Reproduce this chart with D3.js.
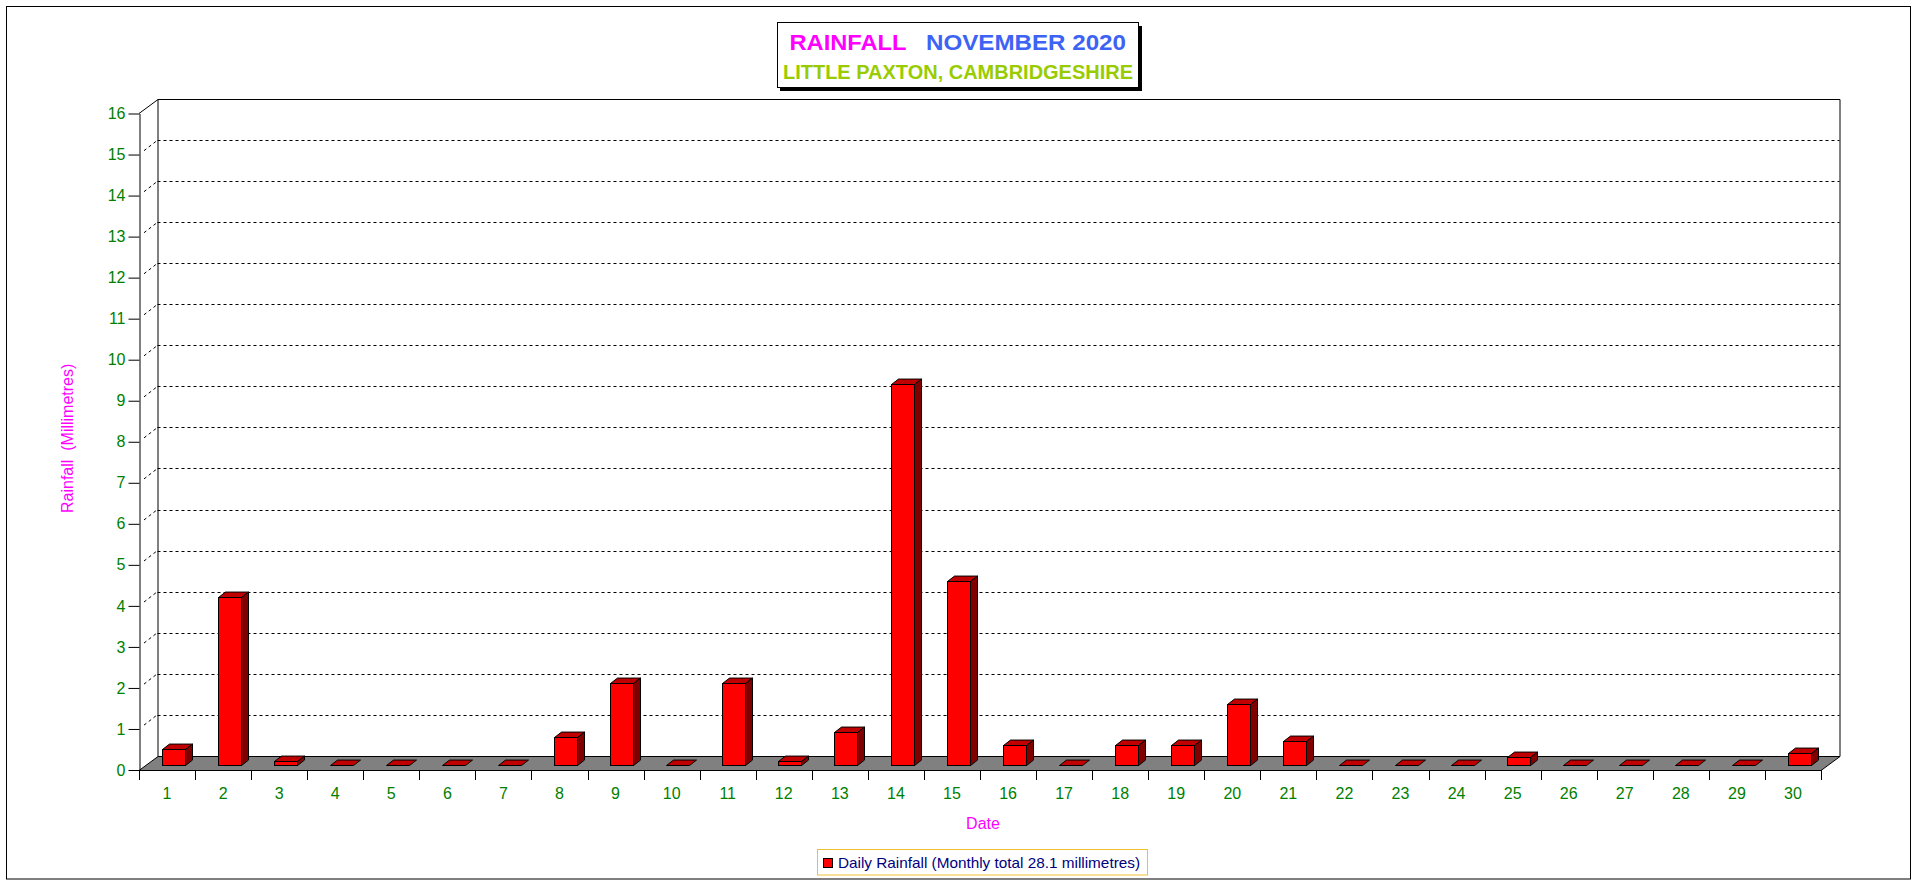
<!DOCTYPE html>
<html>
<head>
<meta charset="utf-8">
<script src="https://cdn.jsdelivr.net/npm/d3@7/dist/d3.min.js"></script>
<style>
  html, body { margin: 0; padding: 0; background: #ffffff; }
  svg { display: block; font-family: "Liberation Sans", Arial, sans-serif; }
</style>
</head>
<body>
<script>
const days = ["1","2","3","4","5","6","7","8","9","10","11","12","13","14","15",
              "16","17","18","19","20","21","22","23","24","25","26","27","28","29","30"];
const rainfall = [0.4,4.1,0.1,0,0,0,0,0.7,2.0,0,2.0,0.1,0.8,9.3,4.5,
                  0.5,0,0.5,0.5,1.5,0.6,0,0,0,0.2,0,0,0,0,0.3];
const yTicks = [0,1,2,3,4,5,6,7,8,9,10,11,12,13,14,15,16];
const gridValues = [1,2,3,4,5,6,7,8,9,10,11,12,13,14,15];
const titleWord = "RAINFALL";
const titleMonth = "NOVEMBER 2020";
const subtitle = "LITTLE PAXTON, CAMBRIDGESHIRE";
const yTitle = "Rainfall  (Millimetres)";
const xTitle = "Date";
const legendText = "Daily Rainfall (Monthly total 28.1 millimetres)";

const W = 1916, H = 884;
const X0 = 139, X1 = 1821, YB = 770, YT = 113.5;
const DX = 18.5, DY = 14.3;          // floor/wall depth offset
const ZF = 0.33, ZD = 0.38;          // bar depth position and thickness (fraction)

const svg = d3.select("body").append("svg").attr("width", W).attr("height", H);

// outer frame
svg.append("rect").attr("x", 6.5).attr("y", 6.5).attr("width", 1904).attr("height", 872.5)
  .attr("fill", "none").attr("stroke", "#000").attr("stroke-width", 1);

const x = d3.scaleBand().domain(days).range([X0, X1]).paddingInner(0.59).paddingOuter(0.295);
const xc = d3.scaleBand().domain(days).range([X0, X1]);
const y = d3.scaleLinear().domain([0, 16]).range([YB, YT]);

const g = svg.append("g");

// back wall gridlines
g.selectAll("line.grid").data(gridValues).enter().append("line")
  .attr("x1", X0 + DX).attr("x2", X1 + DX)
  .attr("y1", d => Math.round(y(d) - DY) + 0.5).attr("y2", d => Math.round(y(d) - DY) + 0.5)
  .attr("stroke", "#000").attr("stroke-dasharray", "3,3");
g.selectAll("line.diag").data(gridValues).enter().append("line")
  .attr("x1", X0 + 5).attr("y1", d => y(d) - 5 * DY / DX)
  .attr("x2", X0 + DX).attr("y2", d => y(d) - DY)
  .attr("stroke", "#000").attr("stroke-dasharray", "3,3");

// wall edges
const wallTop = Math.round(y(16) - DY) + 0.5;
const floorBack = Math.round(YB - DY) + 0.5;
g.append("path")
  .attr("d", `M${X0},${y(16)} L${X0 + DX + 0.5},${wallTop} L${X1 + DX + 0.5},${wallTop} L${X1 + DX + 0.5},${floorBack}`)
  .attr("fill", "none").attr("stroke", "#000");
g.append("line").attr("x1", X0 + DX + 0.5).attr("x2", X0 + DX + 0.5)
  .attr("y1", wallTop).attr("y2", floorBack).attr("stroke", "#000");

// floor
g.append("polygon")
  .attr("points", [[X0, YB + 0.5], [X1, YB + 0.5], [X1 + DX + 0.5, floorBack], [X0 + DX + 0.5, floorBack]].map(p => p.join(",")).join(" "))
  .attr("fill", "#808080").attr("stroke", "#000");

// y axis
const yAxis = g.append("g").attr("transform", `translate(${X0 + 0.5},0)`)
  .call(d3.axisLeft(y).tickValues(yTicks).tickSize(11).tickSizeOuter(0).tickPadding(3).tickFormat(d3.format("d")));
yAxis.select(".domain").attr("stroke", "#000");
yAxis.selectAll(".tick line").attr("stroke", "#000");
yAxis.selectAll(".tick text").attr("fill", "#008000").attr("font-size", 16)
  .attr("font-family", "'Liberation Sans', Arial, sans-serif");

// x axis ticks (category boundaries)
const bounds = days.map(d => xc(d)).concat([X1]);
g.selectAll("line.xtick").data(bounds).enter().append("line")
  .attr("x1", d => Math.round(d) + 0.5).attr("x2", d => Math.round(d) + 0.5)
  .attr("y1", YB).attr("y2", YB + 10).attr("stroke", "#000");
g.selectAll("text.xlab").data(days).enter().append("text")
  .attr("x", d => xc(d) + xc.bandwidth() / 2).attr("y", YB + 29)
  .attr("text-anchor", "middle").attr("font-size", 16).attr("fill", "#008000")
  .text(d => d);

// bars
const bw = x.bandwidth();
const bdx = ZD * DX, bdy = ZD * DY;
const bars = g.selectAll("g.bar").data(days.map((d, i) => ({ day: d, v: rainfall[i] }))).enter()
  .append("g").attr("class", "bar");
bars.each(function (d) {
  const s = d3.select(this);
  const bx = Math.round(x(d.day) + ZF * DX) + 0.5;
  const yb = Math.round(y(0) - ZF * DY) + 0.5;
  const yt = Math.round(y(d.v) - ZF * DY) + 0.5;
  const w = Math.round(bw);
  // top face
  s.append("polygon")
    .attr("points", [[bx, yt], [bx + w, yt], [bx + w + bdx, yt - bdy], [bx + bdx, yt - bdy]].map(p => p.join(",")).join(" "))
    .attr("fill", "#c00000").attr("stroke", "#000");
  if (d.v > 0) {
    s.append("polygon")
      .attr("points", [[bx + w, yt], [bx + w + bdx, yt - bdy], [bx + w + bdx, yb - bdy], [bx + w, yb]].map(p => p.join(",")).join(" "))
      .attr("fill", "#800000").attr("stroke", "#000");
    s.append("rect").attr("x", bx).attr("y", yt).attr("width", w).attr("height", yb - yt)
      .attr("fill", "#ff0000").attr("stroke", "#000");
  }
});

// axis titles
svg.append("defs").append("clipPath").attr("id", "ytclip")
  .append("rect").attr("x", 40).attr("y", 364).attr("width", 60).attr("height", 200);
svg.append("g").attr("clip-path", "url(#ytclip)")
  .append("text")
  .attr("transform", "translate(72.5,513) rotate(-90)")
  .attr("font-size", 16).attr("fill", "#ff00ff").style("white-space", "pre")
  .text(yTitle);
svg.append("text").attr("x", 983).attr("y", 829).attr("text-anchor", "middle")
  .attr("font-size", 16).attr("fill", "#ff00ff").text(xTitle);

// title box
svg.append("rect").attr("x", 780).attr("y", 26).attr("width", 362).attr("height", 65).attr("fill", "#000");
svg.append("rect").attr("x", 777.5).attr("y", 22.5).attr("width", 361).attr("height", 65)
  .attr("fill", "#fff").attr("stroke", "#000");
svg.append("text").attr("x", 789.5).attr("y", 50).attr("font-size", 22).attr("font-weight", "bold")
  .attr("fill", "#ff00ff").attr("textLength", 117).attr("lengthAdjust", "spacingAndGlyphs").text(titleWord);
svg.append("text").attr("x", 926).attr("y", 50).attr("font-size", 22).attr("font-weight", "bold")
  .attr("fill", "#3d63f5").attr("textLength", 200).attr("lengthAdjust", "spacingAndGlyphs").text(titleMonth);
svg.append("text").attr("x", 783).attr("y", 78.5).attr("font-size", 20).attr("font-weight", "bold")
  .attr("fill", "#99cc00").attr("textLength", 350).attr("lengthAdjust", "spacingAndGlyphs").text(subtitle);

// legend
svg.append("rect").attr("x", 817.5).attr("y", 849.5).attr("width", 330).attr("height", 25.5)
  .attr("fill", "#fff").attr("stroke", "#f0c030");
svg.append("rect").attr("x", 823.5).attr("y", 858.5).attr("width", 9).attr("height", 9)
  .attr("fill", "#ff0000").attr("stroke", "#000");
svg.append("text").attr("x", 838).attr("y", 867.5).attr("font-size", 15).attr("fill", "#000080")
  .attr("textLength", 302).attr("lengthAdjust", "spacingAndGlyphs").text(legendText);
</script>
</body>
</html>
